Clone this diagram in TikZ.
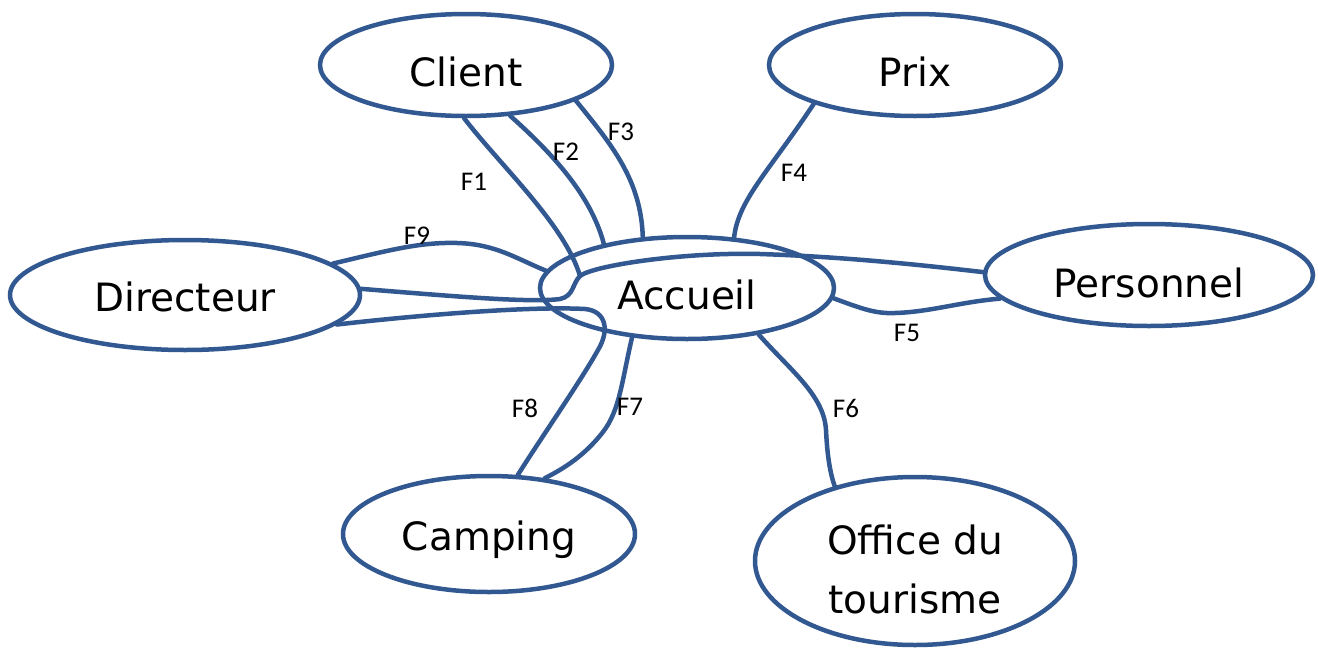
\documentclass[tikz,border=0pt]{standalone}
\usepackage{fontspec}
\setmainfont{DejaVu Sans}
\newfontfamily\labelfont{Carlito}
\usetikzlibrary{shapes.geometric}
\definecolor{flowblue}{RGB}{50,88,145}

\begin{document}
\begin{tikzpicture}[x=1pt,y=-1pt]
        \tikzset{entity/.style={ellipse,draw=flowblue,line width=4.5pt,inner sep=0pt,
                font=\fontsize{39}{59}\selectfont,text height=43pt,text depth=0pt,align=center},
            flow/.style={draw=flowblue,line width=4.5pt,line cap=round},
            flowlabel/.style={font=\labelfont\fontsize{27}{30}\selectfont}}
        \useasboundingbox (0,0) rectangle (1318,651);

        % the actors round the reception
        \node[entity,minimum width=292pt,minimum height=102pt] (client) at (466,65) {Client};
        \node[entity,minimum width=292pt,minimum height=102pt] (prix) at (915,65) {Prix};
        \node[entity,minimum width=350pt,minimum height=110pt,text height=33pt] (directeur) at (185,295) {Directeur};
        \node[entity,minimum width=294pt,minimum height=102pt] (accueil) at (687,288) {Accueil};
        \node[entity,minimum width=328pt,minimum height=102pt,text height=45pt] (personnel) at (1149,275) {Personnel};
        \node[entity,minimum width=292pt,minimum height=116pt,text height=33pt] (camping) at (489,534) {Camping};
        \node[entity,minimum width=320pt,minimum height=168pt,text height=104pt,text depth=0pt] (office) at (915,561) {Office du\\tourisme};

        \coordinate (hook) at (580,276);

        % flows
        \draw[flow] (client.268) .. controls (500,165) and (565,225) .. (hook);
        \draw[flow] (client.311) .. controls (560,160) and (592,200) .. (accueil.152);
        \draw[flow] (client.342) .. controls (612,145) and (641,180) .. (accueil.131);
        \draw[flow] (prix.201) .. controls (770,170) and (738,200) .. (accueil.47);
        \draw[flow] (accueil.356) .. controls (860,308) and (875,314) .. (895,313)
            .. controls (930,312) and (960,302) .. (personnel.189);
        \draw[flow] (accueil.327) .. controls (790,370) and (824,395) .. (826,430)
            .. controls (827,450) and (829,470) .. (office.137);
        \draw[flow] (accueil.222) .. controls (622,380) and (620,410) .. (603,432)
            .. controls (585,455) and (565,468) .. (camping.45);
        \draw[flow] (directeur.349) .. controls (420,315) and (530,306) .. (585,309)
            .. controls (606,311) and (610,330) .. (598,350)
            .. controls (580,382) and (545,432) .. (camping.64);
        \draw[flow] (directeur.12) .. controls (390,250) and (420,242) .. (457,243)
            .. controls (495,244) and (515,258) .. (accueil.173);
        \draw[flow] (directeur.2) .. controls (450,296) and (530,303) .. (560,299)
            .. controls (574,296) and (572,284) .. (hook)
            .. controls (592,266) and (680,252) .. (760,254)
            .. controls (850,257) and (930,266) .. (personnel.179);

        \node[flowlabel] (f1) at (474,182) {F1};
        \node[flowlabel] (f2) at (566,152) {F2};
        \node[flowlabel] (f3) at (621,132) {F3};
        \node[flowlabel] (f4) at (794,173) {F4};
        \node[flowlabel] (f5) at (907,333) {F5};
        \node[flowlabel] (f6) at (846,408) {F6};
        \node[flowlabel] (f7) at (630,407) {F7};
        \node[flowlabel] (f8) at (525,408) {F8};
        \node[flowlabel] (f9) at (417,236) {F9};
    \end{tikzpicture}
\end{document}
